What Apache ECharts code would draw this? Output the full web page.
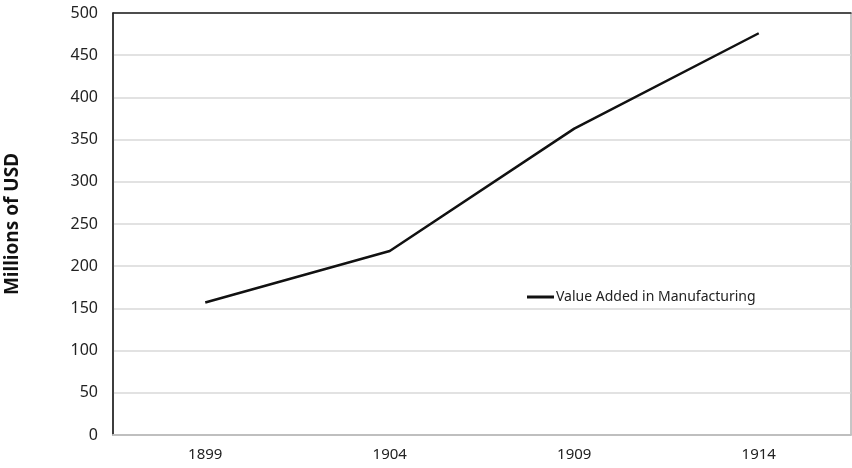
<!DOCTYPE html>
<html><head><meta charset="utf-8">
<script src="https://cdn.jsdelivr.net/npm/echarts@6/dist/echarts.min.js"></script>
<style>html,body{margin:0;padding:0;background:#fff}#c{width:852px;height:468px}</style>
</head><body><div id="c"></div>
<script>
const years = ['1899', '1904', '1909', '1914'];
const valueAdded = [157, 218, 363, 476];
const seriesName = 'Value Added in Manufacturing';
const yTicks = [0, 50, 100, 150, 200, 250, 300, 350, 400, 450, 500];

const chart = echarts.init(document.getElementById('c'));
const font = '"Noto Sans", "Open Sans", sans-serif';
chart.setOption({
  animation: false,
  grid: { left: 113, right: 1, top: 13, bottom: 33, show: true, borderColor: '#8c8c8c', borderWidth: 1, outerBoundsMode: 'none', containLabel: false },
  legend: {
    left: 522, top: 285, itemWidth: 27, itemHeight: 3, itemGap: 0,
    data: [{ name: seriesName, icon: 'rect' }],
    textStyle: { fontFamily: font, fontSize: 14, color: '#222', padding: [0, 0, 0, -3] }
  },
  xAxis: [{
    type: 'category', data: years, boundaryGap: true, position: 'bottom',
    axisLine: { lineStyle: { color: '#bfbfbf', width: 2 } },
    axisTick: { show: false },
    axisLabel: { fontFamily: font, fontSize: 15, color: '#222', margin: 12 }
  }, {
    type: 'category', data: years, position: 'top',
    axisLine: { lineStyle: { color: '#222', width: 1.5 } },
    axisTick: { show: false }, axisLabel: { show: false }
  }],
  yAxis: {
    type: 'value', min: yTicks[0], max: yTicks[yTicks.length - 1], interval: 50,
    name: 'Millions of USD', nameLocation: 'middle', nameGap: 91, nameRotate: 90,
    nameTextStyle: { fontFamily: font, fontSize: 19, fontWeight: 'bold', color: '#111' },
    axisLine: { show: true, lineStyle: { color: '#111', width: 1.5 } },
    axisTick: { show: false },
    axisLabel: { fontFamily: font, fontSize: 16, color: '#222', margin: 15 },
    splitLine: { lineStyle: { color: '#d9d9d9', width: 1.5 } }
  },
  series: [{
    name: seriesName, type: 'line', data: valueAdded, xAxisIndex: 0,
    symbol: 'none', showSymbol: false,
    lineStyle: { color: '#111', width: 2.5 }, itemStyle: { color: '#111' }
  }]
});
</script></body></html>
